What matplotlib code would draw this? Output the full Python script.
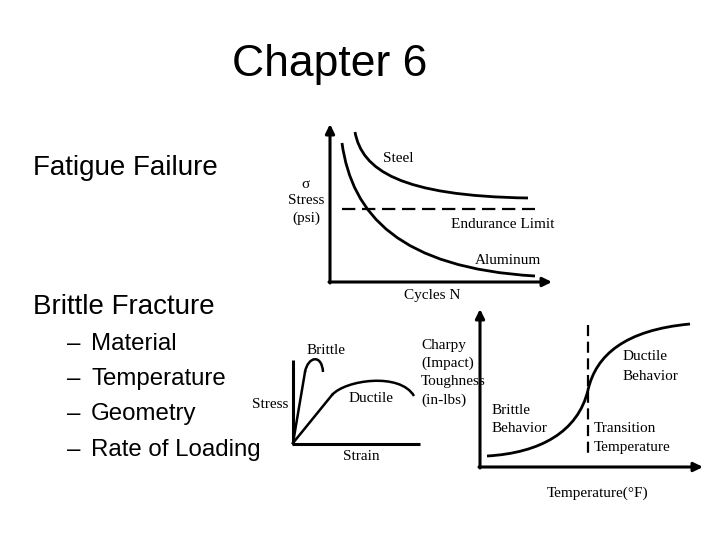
import matplotlib
matplotlib.use("Agg")
import matplotlib.pyplot as plt
from matplotlib.path import Path
from matplotlib.patches import PathPatch

# ---- text content ----
title = "Chapter 6"
heading1 = "Fatigue Failure"
heading2 = "Brittle Fracture"
bullets = ["Material", "Temperature", "Geometry", "Rate of Loading"]
bullet_baselines = [350, 385, 420, 456]

# ---- schematic curve control points (pixel space of slide) ----
steel_ctrl = [(355, 132), (362, 170), (400, 196), (528, 198)]
alum_ctrl = [(342, 143), (352, 215), (400, 268), (535, 276)]
endurance_x = [342, 535]
endurance_y = [209, 209]

brittle_line = [(293, 443), (305, 372)]
brittle_ctrl = [(305, 372), (308, 356), (322, 354), (323, 372)]
ductile_line = [(293, 443), (332, 395)]
ductile_ctrl = [(332, 395), (345, 380), (400, 372), (414, 396)]

charpy_ctrl = [(487, 456), (540, 453), (578, 432), (588, 390),
               (596, 355), (625, 330), (690, 324)]
transition_x = [588, 588]
transition_y = [325, 453]

SANS = "Liberation Sans"
SERIF = "Liberation Serif"

fig = plt.figure(figsize=(7.2, 5.4), dpi=100)
ax = fig.add_axes([0, 0, 1, 1])
ax.set_xlim(0, 720)
ax.set_ylim(540, 0)
ax.axis("off")


def bezier(ctrl, lw=2.0):
    codes = [Path.MOVETO] + [Path.CURVE4] * (len(ctrl) - 1)
    p = PathPatch(Path(ctrl, codes), fill=False, lw=lw, color="black",
                  capstyle="butt")
    ax.add_patch(p)


def arrow(x0, y0, x1, y1):
    ax.annotate("", xy=(x1, y1), xytext=(x0, y0),
                arrowprops=dict(arrowstyle="-|>,head_length=0.45,head_width=0.22",
                                lw=2.2, color="black", shrinkA=0, shrinkB=0,
                                mutation_scale=12))


# ---- slide text ----
ax.text(330, 76, title, fontsize=32, family=SANS, ha="center", va="baseline")
ax.text(33, 175, heading1, fontsize=20, family=SANS, ha="left", va="baseline")
ax.text(33, 314, heading2, fontsize=20, family=SANS, ha="left", va="baseline")
for b, yb in zip(bullets, bullet_baselines):
    ax.text(67, yb, "\u2013", fontsize=17.3, family=SANS, ha="left", va="baseline")
    ax.text(91, yb, b, fontsize=17.3, family=SANS, ha="left", va="baseline")

# ---- fatigue diagram ----
arrow(330, 283, 330, 124)
arrow(329, 282, 552, 282)
bezier(steel_ctrl)
bezier(alum_ctrl)
ax.plot(endurance_x, endurance_y, color="black", lw=1.6, dashes=(6, 3))
fs = 11
ax.text(305, 184, "\u03c3", fontsize=fs, family=SERIF, ha="center", va="center")
ax.text(306, 201, "Stress", fontsize=fs, family=SERIF, ha="center", va="center")
ax.text(306, 218, "(psi)", fontsize=fs, family=SERIF, ha="center", va="center")
ax.text(398, 158, "Steel", fontsize=fs, family=SERIF, ha="center", va="center")
ax.text(503, 224, "Endurance Limit", fontsize=fs, family=SERIF, ha="center", va="center")
ax.text(508, 261, "Aluminum", fontsize=fs, family=SERIF, ha="center", va="center")
ax.text(432, 296, "Cycles N", fontsize=fs, family=SERIF, ha="center", va="center")

# ---- stress-strain diagram ----
ax.plot([293, 293], [360, 444], color="black", lw=2.2, solid_capstyle="butt")
ax.plot([292, 420], [444, 444], color="black", lw=2.2, solid_capstyle="butt")
ax.plot(*zip(*brittle_line), color="black", lw=1.8)
bezier(brittle_ctrl, 1.8)
ax.plot(*zip(*ductile_line), color="black", lw=1.8)
bezier(ductile_ctrl, 1.8)
ax.text(326, 351, "Brittle", fontsize=fs, family=SERIF, ha="center", va="center")
ax.text(288, 405, "Stress", fontsize=fs, family=SERIF, ha="right", va="center")
ax.text(371, 399, "Ductile", fontsize=fs, family=SERIF, ha="center", va="center")
ax.text(361, 457, "Strain", fontsize=fs, family=SERIF, ha="center", va="center")

# ---- Charpy diagram ----
arrow(480, 468, 480, 309)
arrow(479, 467, 703, 467)
bezier(charpy_ctrl)
ax.plot(transition_x, transition_y, color="black", lw=1.6, dashes=(5, 2.5))
for txt, yy in zip(["Charpy", "(Impact)", "Toughness", "(in-lbs)"], [345, 363, 382, 400]):
    ax.text(421, yy, txt, fontsize=fs, family=SERIF, ha="left", va="center")
ax.text(492, 410, "Brittle", fontsize=fs, family=SERIF, ha="left", va="center")
ax.text(492, 428, "Behavior", fontsize=fs, family=SERIF, ha="left", va="center")
ax.text(623, 357, "Ductile", fontsize=fs, family=SERIF, ha="left", va="center")
ax.text(623, 376, "Behavior", fontsize=fs, family=SERIF, ha="left", va="center")
ax.text(594, 428, "Transition", fontsize=fs, family=SERIF, ha="left", va="center")
ax.text(594, 447, "Temperature", fontsize=fs, family=SERIF, ha="left", va="center")
ax.text(598, 493, "Temperature(\u00b0F)", fontsize=fs, family=SERIF, ha="center", va="center")

fig.savefig("out.png", dpi=100, facecolor="white")
